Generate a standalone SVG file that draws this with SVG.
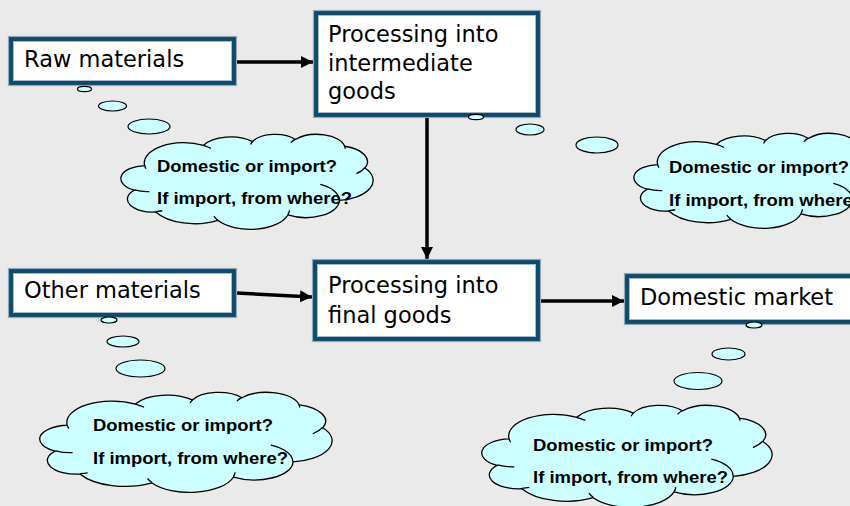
<svg xmlns="http://www.w3.org/2000/svg" xmlns:xlink="http://www.w3.org/1999/xlink" width="850" height="506" viewBox="0 0 850 506">
<style>
.frame{fill:#0D4A6B;stroke:#8FA9BB;stroke-width:1.2}
.inner{fill:#FFFFFF;stroke:#A5BACA;stroke-width:1}
.lbl{font-family:"DejaVu Sans","Liberation Sans",sans-serif;font-size:22.5px;fill:#000}
.q{font-family:"Liberation Sans",Arial,sans-serif;font-size:16px;font-weight:bold;fill:#000}
.cl{fill:#CCFFFF;stroke:#000;stroke-width:1.3;vector-effect:non-scaling-stroke}
.cli{fill:none;stroke:#000;stroke-width:1.3;vector-effect:non-scaling-stroke}
.bub{fill:#CCFFFF;stroke:#000;stroke-width:1.2}
.arr{stroke:#000;stroke-width:3.5;fill:none;marker-end:url(#ah)}
</style>
<defs>
<marker id="ah" markerUnits="userSpaceOnUse" markerWidth="13" markerHeight="13" refX="12" refY="6" orient="auto">
<path d="M0,0 L12,6 L0,12 Z" fill="#000"/>
</marker>
<path id="cloudO" class="cl" d="M3900 14370 A6753 9190 0 0 1 14006 5203 A5333 7267 0 0 1 22457 3434 A4365 5945 0 0 1 29834 2482 A4857 6595 0 0 1 38318 5579 A5333 7273 0 0 1 41819 15463 A6775 9220 0 0 1 37406 30207 A5785 7867 0 0 1 28558 36818 A6752 9215 0 0 1 16482 39269 A7720 10543 0 0 1 5806 35474 A4360 5918 0 0 1 2114 25554 A4345 5945 0 0 1 3900 14370 Z"/>
<path id="cloudI" class="cli" d="M4693 26177 A4345 5945 0 0 1 2159 25379 M6928 34899 A4360 5918 0 0 1 5819 35281 M16478 39090 A6752 9215 0 0 1 15810 37350 M28827 34751 A6752 9215 0 0 1 28560 36661 M34129 22954 A5785 7867 0 0 1 37380 30090 M41798 15354 A5333 7273 0 0 1 40350 18030 M38324 5426 A4857 6595 0 0 1 38400 6690 M29078 3952 A4857 6595 0 0 1 29821 2338 M22141 4720 A4365 5945 0 0 1 22500 3330 M14000 5192 A6753 9190 0 0 1 15300 6541 M4127 15789 A6753 9190 0 0 1 3900 14370"/>
</defs>
<rect x="0" y="0" width="850" height="506" fill="#EAEAEA"/>

<g id="connectors">
<line class="arr" x1="237" y1="62" x2="313" y2="62"/>
<line class="arr" x1="427" y1="118" x2="427" y2="259"/>
<line class="arr" x1="237" y1="293" x2="312" y2="297"/>
<line class="arr" x1="541" y1="301" x2="624" y2="301"/>
</g>

<g id="raw-materials">
<rect class="frame" x="8.5" y="36.5" width="228" height="49"/>
<rect class="inner" x="13.5" y="41.5" width="218" height="39"/>
<text class="lbl" x="24" y="67">Raw materials</text>
</g>

<g id="intermediate">
<rect class="frame" x="313.5" y="10.5" width="227" height="107"/>
<rect class="inner" x="318.5" y="15.5" width="217" height="97"/>
<text class="lbl" x="328" y="42">Processing into</text>
<text class="lbl" x="328" y="70.5">intermediate</text>
<text class="lbl" x="328" y="99">goods</text>
</g>

<g id="other-materials">
<rect class="frame" x="8.5" y="268.5" width="228" height="49"/>
<rect class="inner" x="13.5" y="273.5" width="218" height="39"/>
<text class="lbl" x="24" y="298">Other materials</text>
</g>

<g id="final-goods">
<rect class="frame" x="312.5" y="259.5" width="228" height="82"/>
<rect class="inner" x="317.5" y="264.5" width="218" height="72"/>
<text class="lbl" x="328" y="293">Processing into</text>
<text class="lbl" x="328" y="323">final goods</text>
</g>

<g id="domestic-market">
<rect class="frame" x="624.5" y="273.5" width="260" height="51"/>
<rect class="inner" x="629.5" y="278.5" width="250" height="41"/>
<text class="lbl" x="640" y="305">Domestic market</text>
</g>

<g id="cloud-raw">
<ellipse class="bub" cx="84.5" cy="89" rx="7" ry="2.7"/>
<ellipse class="bub" cx="112.5" cy="106" rx="14" ry="5"/>
<ellipse class="bub" cx="149" cy="126.5" rx="21" ry="7.5"/>
<g transform="translate(122,134) scale(0.005810,0.002199)"><use xlink:href="#cloudO"/><use xlink:href="#cloudI"/></g>
<text class="q" x="157" y="172" textLength="180" lengthAdjust="spacingAndGlyphs">Domestic or import?</text>
<text class="q" x="157" y="204" textLength="195" lengthAdjust="spacingAndGlyphs">If import, from where?</text>
</g>

<g id="cloud-intermediate">
<ellipse class="bub" cx="476" cy="117" rx="7.5" ry="2.7"/>
<ellipse class="bub" cx="530" cy="129.5" rx="14" ry="5.5"/>
<ellipse class="bub" cx="597" cy="145" rx="21" ry="8"/>
<g transform="translate(635,133) scale(0.005810,0.002199)"><use xlink:href="#cloudO"/><use xlink:href="#cloudI"/></g>
<text class="q" x="669" y="173" textLength="180" lengthAdjust="spacingAndGlyphs">Domestic or import?</text>
<text class="q" x="669" y="206" textLength="195" lengthAdjust="spacingAndGlyphs">If import, from where?</text>
</g>

<g id="cloud-other">
<ellipse class="bub" cx="109" cy="320" rx="8" ry="3"/>
<ellipse class="bub" cx="123" cy="341.5" rx="16" ry="5.5"/>
<ellipse class="bub" cx="140.5" cy="368.5" rx="24.5" ry="8.5"/>
<g transform="translate(41,392) scale(0.006736,0.002315)"><use xlink:href="#cloudO"/><use xlink:href="#cloudI"/></g>
<text class="q" x="93" y="431" textLength="180" lengthAdjust="spacingAndGlyphs">Domestic or import?</text>
<text class="q" x="93" y="464" textLength="195" lengthAdjust="spacingAndGlyphs">If import, from where?</text>
</g>

<g id="cloud-market">
<ellipse class="bub" cx="754" cy="325" rx="8" ry="3"/>
<ellipse class="bub" cx="728.5" cy="354" rx="16.5" ry="6"/>
<ellipse class="bub" cx="698" cy="381" rx="24" ry="8.5"/>
<g transform="translate(483,405) scale(0.006690,0.002361)"><use xlink:href="#cloudO"/><use xlink:href="#cloudI"/></g>
<text class="q" x="533" y="451" textLength="180" lengthAdjust="spacingAndGlyphs">Domestic or import?</text>
<text class="q" x="533" y="483" textLength="195" lengthAdjust="spacingAndGlyphs">If import, from where?</text>
</g>
</svg>
